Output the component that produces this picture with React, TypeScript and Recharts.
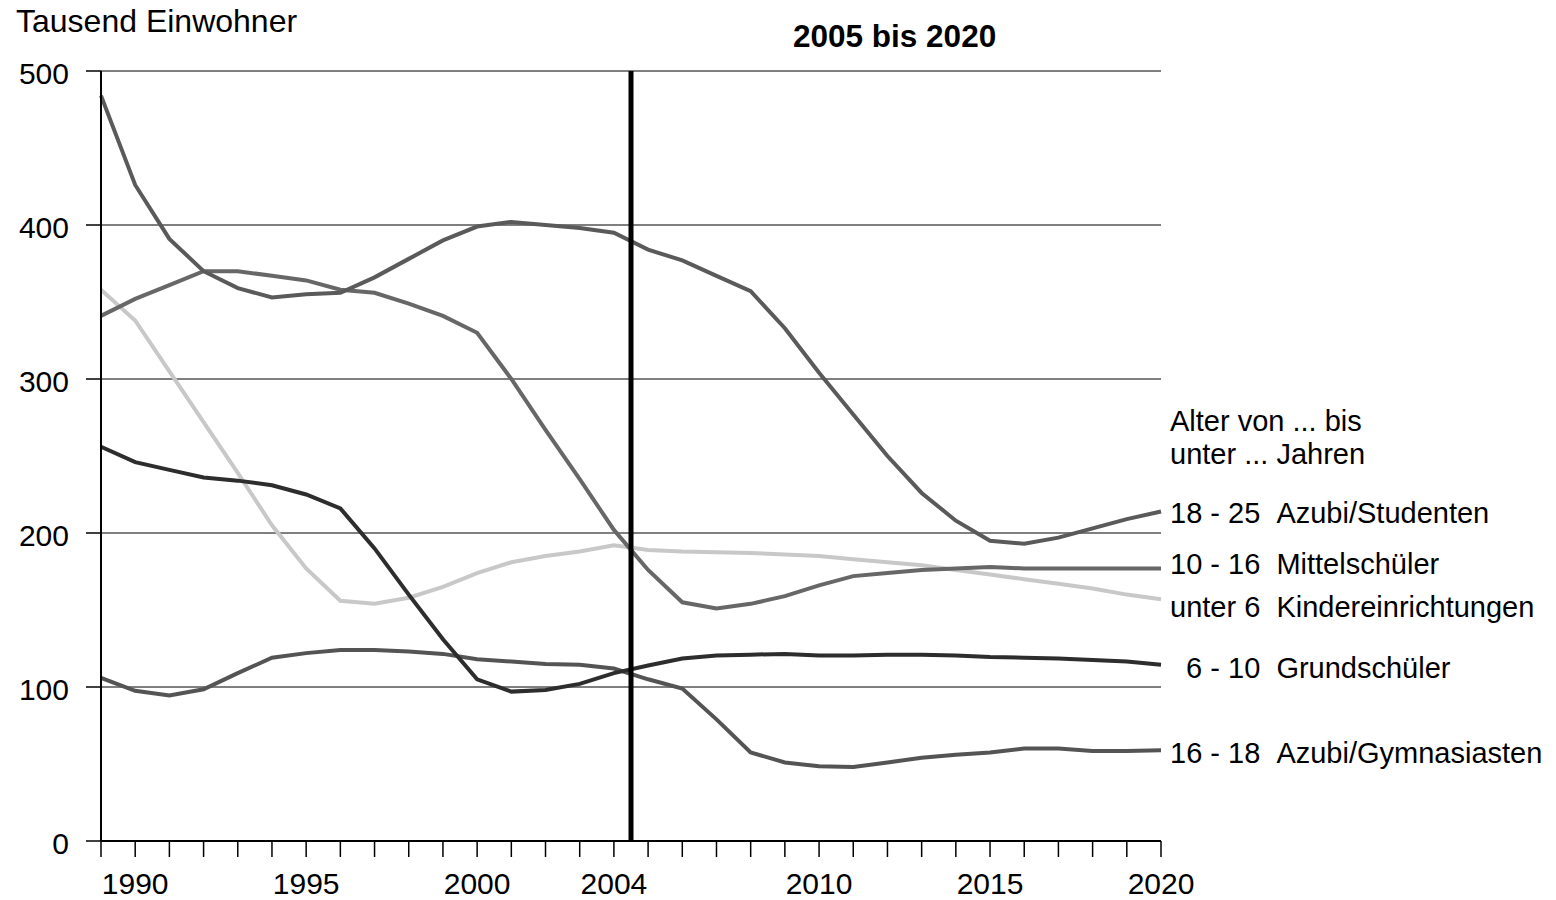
import React from 'react';
import { LineChart, Line, XAxis, YAxis, CartesianGrid, ReferenceLine } from 'recharts';

// Jahre 1989 bis 2020
const years = [
  1989, 1990, 1991, 1992, 1993, 1994, 1995, 1996, 1997, 1998, 1999, 2000, 2001, 2002, 2003, 2004,
  2005, 2006, 2007, 2008, 2009, 2010, 2011, 2012, 2013, 2014, 2015, 2016, 2017, 2018, 2019, 2020,
];

// Tausend Einwohner je Altersgruppe
const studenten = [
  484, 426, 391, 370, 359, 353, 355, 356, 366, 378, 390, 399, 402, 400, 398, 395,
  384, 377, 367, 357, 333, 304, 277, 250, 226, 208, 195, 193, 197, 203, 209, 214,
];
const mittelschueler = [
  341, 352, 361, 370, 370, 367, 364, 358, 356, 349, 341, 330, 300, 267, 235, 202,
  176, 155, 151, 154, 159, 166, 172, 174, 176, 177, 178, 177, 177, 177, 177, 177,
];
const kinder = [
  358, 338, 305, 272, 239, 205, 177, 156, 154, 158, 165, 174, 181, 185, 188, 192,
  189, 188, 187.5, 187, 186, 185, 183, 181, 179, 176, 173, 170, 167, 164, 160, 157,
];
const grundschueler = [
  256, 246, 241, 236, 234, 231, 225, 216, 190, 160, 131, 105, 97, 98, 102, 109,
  114, 118.5, 120.5, 121, 121.5, 120.5, 120.5, 121, 121, 120.5, 119.5, 119, 118.5, 117.5, 116.5, 114.5,
];
const gymnasiasten = [
  106, 97.5, 94.5, 98.5, 109, 119, 122, 124, 124, 123, 121.5, 118, 116.5, 115, 114.5, 112,
  105, 99, 79, 57.5, 51, 48.5, 48, 51, 54, 56, 57.5, 60, 60, 58.5, 58.5, 59,
];

const xTickLabels = [1990, 1995, 2000, 2004, 2010, 2015, 2020];
const yTicks = [0, 100, 200, 300, 400, 500];

const data = years.map((year, i) => ({
  year,
  studenten: studenten[i],
  mittelschueler: mittelschueler[i],
  kinder: kinder[i],
  grundschueler: grundschueler[i],
  gymnasiasten: gymnasiasten[i],
}));

const font = '"Liberation Sans", Arial, sans-serif';
const sp = '\u00a0';

export default function App() {
  return (
    <div style={{ position: 'absolute', left: 0, top: 0, width: 1556, height: 900, background: '#fff' }}>
      <LineChart width={1556} height={900} data={data} margin={{ top: 71, right: 395, bottom: 0, left: 0 }}>
        <CartesianGrid vertical={false} stroke="#000" strokeWidth={1} />
        <XAxis
          dataKey="year"
          type="number"
          domain={[1989, 2020]}
          ticks={years}
          interval={0}
          height={59}
          tickSize={16}
          tickMargin={16}
          tickFormatter={(v: number) => (xTickLabels.includes(v) ? String(v) : '')}
          axisLine={{ stroke: '#000', strokeWidth: 2 }}
          tickLine={{ stroke: '#000', strokeWidth: 1.5 }}
          tick={{ fill: '#000', fontSize: 30, fontFamily: font }}
        />
        <YAxis
          domain={[0, 500]}
          ticks={yTicks}
          width={101}
          tickSize={15}
          tickMargin={17}
          axisLine={{ stroke: '#000', strokeWidth: 2 }}
          tickLine={{ stroke: '#000', strokeWidth: 1.5 }}
          tick={{ fill: '#000', fontSize: 30, fontFamily: font, dy: 2 }}
        />
        <Line dataKey="kinder" stroke="#c8c8c8" strokeWidth={4} dot={false} isAnimationActive={false} />
        <Line dataKey="mittelschueler" stroke="#676767" strokeWidth={4} dot={false} isAnimationActive={false} />
        <Line dataKey="studenten" stroke="#5a5a5a" strokeWidth={4} dot={false} isAnimationActive={false} />
        <Line dataKey="gymnasiasten" stroke="#545454" strokeWidth={4} dot={false} isAnimationActive={false} />
        <Line dataKey="grundschueler" stroke="#2d2d2d" strokeWidth={4} dot={false} isAnimationActive={false} />
        <ReferenceLine x={2004.5} stroke="#000" strokeWidth={5} />
      </LineChart>
      <svg
        width={1556}
        height={900}
        style={{ position: 'absolute', left: 0, top: 0, pointerEvents: 'none' }}
        fontFamily={font}
      >
        <text x={16} y={32} fontSize={32} fill="#000">Tausend Einwohner</text>
        <text x={793} y={47} fontSize={31.5} fontWeight="bold" fill="#000">2005 bis 2020</text>
        <g fontSize={29} fill="#000">
          <text x={1170} y={431}>Alter von ... bis</text>
          <text x={1170} y={464}>unter ... Jahren</text>
          <text x={1170} y={523}>{`18 - 25${sp}${sp}Azubi/Studenten`}</text>
          <text x={1170} y={574}>{`10 - 16${sp}${sp}Mittelschüler`}</text>
          <text x={1170} y={617}>{`unter 6${sp}${sp}Kindereinrichtungen`}</text>
          <text x={1170} y={678}>{`${sp}${sp}6 - 10${sp}${sp}Grundschüler`}</text>
          <text x={1170} y={763}>{`16 - 18${sp}${sp}Azubi/Gymnasiasten`}</text>
        </g>
      </svg>
    </div>
  );
}
